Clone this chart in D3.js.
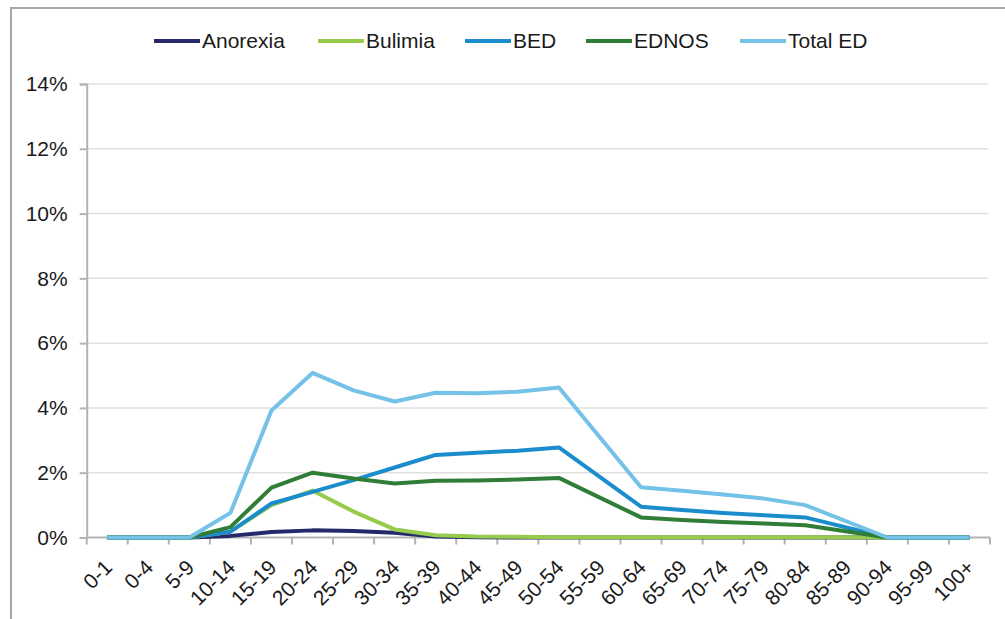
<!DOCTYPE html>
<html>
<head>
<meta charset="utf-8">
<script src="https://cdn.jsdelivr.net/npm/d3@7"></script>
<style>
  body { margin: 0; background: #fff; }
  text { font-family: "Liberation Sans", Arial, sans-serif; fill: #1a1a1a; }
</style>
</head>
<body>
<script>
// age groups on the x axis
let ageGroups = ["0-1","0-4","5-9","10-14","15-19","20-24","25-29","30-34","35-39","40-44","45-49",
                 "50-54","55-59","60-64","65-69","70-74","75-79","80-84","85-89","90-94","95-99","100+"];

// prevalence (%) per age group, null = no point (line just joins neighbours)
let anorexia = [0,0,0,0.05,0.17,0.22,0.2,0.15,0.03,0.01,0,0,null,0,0,0,0,0,null,0,0,0];
let bulimia  = [0,0,0,0.18,1.0,1.45,0.8,0.25,0.07,0.03,0.02,0.01,null,0.01,0.01,0.01,0.01,0.01,null,0,0,0];
let bed      = [0,0,0,0.18,1.05,1.41,1.77,2.16,2.55,2.62,2.68,2.78,null,0.95,0.85,0.76,0.69,0.62,null,0,0,0];
let ednos    = [0,0,0,0.32,1.54,2.0,1.82,1.67,1.75,1.76,1.79,1.84,null,0.62,0.54,0.48,0.43,0.38,null,0,0,0];
let totalED  = [0,0,0,0.76,3.92,5.08,4.54,4.2,4.47,4.45,4.5,4.63,null,1.55,1.44,1.33,1.2,1.0,null,0,0,0];

let seriesNames = ["Anorexia","Bulimia","BED","EDNOS","Total ED"];
let seriesColors = ["#25296b","#96cb4b","#1b8dcd","#2f7d36","#74c2e7"];
let yTicks = [0,2,4,6,8,10,12,14];

let allSeries = [anorexia, bulimia, bed, ednos, totalED];

let width = 1005, height = 619;
let margin = {top: 84, right: 15, bottom: 81.5, left: 86.7};

let svg = d3.select("body").append("svg")
    .attr("width", width)
    .attr("height", height);

// outer frame (only top and left edges fall inside the picture)
svg.append("rect")
    .attr("x", 11).attr("y", 8)
    .attr("width", 1010).attr("height", 630)
    .attr("fill", "none")
    .attr("stroke", "#a6a6a6")
    .attr("stroke-width", 2);

let x = d3.scaleBand()
    .domain(ageGroups)
    .range([margin.left, width - margin.right]);

let y = d3.scaleLinear()
    .domain([0, 14])
    .range([height - margin.bottom, margin.top]);

// gridlines
svg.append("g")
  .selectAll("line")
  .data(yTicks.slice(1))
  .enter().append("line")
    .attr("x1", margin.left)
    .attr("x2", width - margin.right - 2)
    .attr("y1", d => y(d))
    .attr("y2", d => y(d))
    .attr("stroke", "#e0e0e0")
    .attr("stroke-width", 1.5);

// y axis
let yAxis = svg.append("g")
    .attr("transform", "translate(" + margin.left + ",0)")
    .call(d3.axisLeft(y).tickValues(yTicks).tickFormat(d => d + "%").tickSizeOuter(0).tickSize(7).tickPadding(12));
yAxis.selectAll("text").style("font-size", "21px").attr("fill", "#1a1a1a");
yAxis.selectAll("line, path").attr("stroke", "#b3b3b3").attr("stroke-width", 2);

// x axis: ticks on band edges
let xAxisG = svg.append("g")
    .attr("transform", "translate(0," + y(0) + ")");
xAxisG.append("line")
    .attr("x1", margin.left).attr("x2", width - margin.right)
    .attr("stroke", "#b3b3b3").attr("stroke-width", 2);
xAxisG.selectAll("line.tick")
  .data(ageGroups.concat(["end"]))
  .enter().append("line")
    .attr("class", "tick")
    .attr("x1", (d, i) => margin.left + i * x.step())
    .attr("x2", (d, i) => margin.left + i * x.step())
    .attr("y1", 0).attr("y2", 7)
    .attr("stroke", "#b3b3b3").attr("stroke-width", 2);
xAxisG.selectAll("text")
  .data(ageGroups)
  .enter().append("text")
    .attr("transform", d => "translate(" + (x(d) + x.bandwidth() / 2 + 1) + ",26) rotate(-45)")
    .attr("text-anchor", "end")
    .attr("dy", "0.35em")
    .style("font-size", "21px")
    .text(d => d);

// lines (points with no data are skipped, so neighbours are joined)
let line = d3.line()
    .x(d => x(d.age) + x.bandwidth() / 2)
    .y(d => y(d.v));

allSeries.forEach(function(s, i) {
  let pts = ageGroups.map((a, j) => ({age: a, v: s[j]})).filter(d => d.v !== null);
  svg.append("path")
    .datum(pts)
    .attr("fill", "none")
    .attr("stroke", seriesColors[i])
    .attr("stroke-width", 4)
    .attr("stroke-linejoin", "round")
    .attr("d", line);
});

// legend
let legendX = [154, 318, 465, 586, 740];
let legend = svg.append("g").attr("class", "legend");
seriesNames.forEach(function(name, i) {
  let g = legend.append("g").attr("transform", "translate(" + legendX[i] + ",41)");
  g.append("line")
    .attr("x1", 0).attr("x2", 46)
    .attr("stroke", seriesColors[i])
    .attr("stroke-width", 4);
  g.append("text")
    .attr("x", 48)
    .attr("dy", "0.35em")
    .style("font-size", "21px")
    .text(name);
});
</script>
</body>
</html>
